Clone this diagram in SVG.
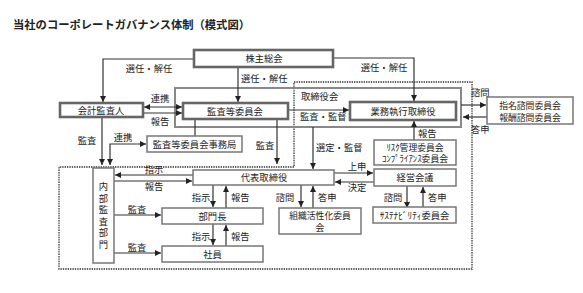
<svg xmlns="http://www.w3.org/2000/svg" width="583" height="293" viewBox="0 0 583 293">
<defs>
<marker id="ah" viewBox="0 0 10 10" refX="10" refY="5" markerWidth="6" markerHeight="6" markerUnits="userSpaceOnUse" orient="auto-start-reverse">
<path d="M0,0 L10,5 L0,10 Z" fill="#222"/>
</marker>
<style>
text{font-family:"Noto Sans CJK JP","Noto Sans",sans-serif;fill:#222;font-size:9.3px}
.t{font-size:11.3px;font-weight:bold}
.c{text-anchor:middle}
.m{font-size:8.8px}
.v{writing-mode:vertical-rl;letter-spacing:2.2px}
.b1{fill:#fff;stroke:#777;stroke-width:1.5}
.b2{fill:#fff;stroke:#666;stroke-width:2.6}
.grp{fill:none;stroke:#888;stroke-width:2}
.dot{fill:none;stroke:#333;stroke-width:1.3;stroke-dasharray:1.4 1}
.ln{fill:none;stroke:#333;stroke-width:1.2}
.ar{fill:none;stroke:#333;stroke-width:1.2;marker-end:url(#ah)}
.ar2{fill:none;stroke:#333;stroke-width:1.2;marker-end:url(#ah);marker-start:url(#ah)}
</style>
</defs>
<rect width="583" height="293" fill="#fff"/>
<text class="t" x="13" y="29">当社のコーポレートガバナンス体制（模式図）</text>

<g id="region">
<path class="dot" d="M294,82 H472 V269 H59 V167 H294 Z"/>
</g>
<g id="torishimariyakukai">
<rect class="grp" x="175" y="88" width="286" height="39"/>
<text x="301" y="100">取締役会</text>
</g>

<g id="connectors">
<path class="ar" d="M194,59 H103 V102"/>
<path class="ar" d="M238,67 V102"/>
<path class="ar" d="M333,58 H414 V101"/>
<path class="ar2" d="M144,107 H182"/>
<path class="ar" d="M143,113 H182"/>
<path class="ln" d="M195,119 V136"/>
<path class="ar" d="M102,117 V165"/>
<path class="ar2" d="M146,144 H110 V165"/>
<path class="ar" d="M277,119 V164"/>
<path class="ar" d="M288,110 H349"/>
<path class="ar" d="M313,127 V169"/>
<path class="ar" d="M414,140 V121"/>
<path class="ar" d="M461,105 H486"/>
<path class="ar" d="M487,117 H463"/>
<path class="ar" d="M193,175 H115"/>
<path class="ar" d="M114,181 H192"/>
<path class="ar" d="M213,185 V207"/>
<path class="ar" d="M226,208 V186"/>
<path class="ar" d="M213,224 V245"/>
<path class="ar" d="M226,246 V225"/>
<path class="ar" d="M114,215 H161"/>
<path class="ar" d="M114,253 H161"/>
<path class="ar" d="M301,185 V207"/>
<path class="ar" d="M313,208 V186"/>
<path class="ar" d="M334,173 H373"/>
<path class="ar" d="M374,182 H335"/>
<path class="ar" d="M407,186 V208"/>
<path class="ar" d="M423,207 V187"/>
</g>

<g id="labels">
<text class="c" x="149" y="72">選任・解任</text>
<text x="241" y="82">選任・解任</text>
<text class="c" x="384" y="71">選任・解任</text>
<text class="c" x="160" y="102">連携</text>
<text class="c" x="160" y="125">報告</text>
<text class="c" x="87" y="144">監査</text>
<text class="c" x="123" y="141">連携</text>
<text class="c" x="265" y="149">監査</text>
<text x="300" y="120">監査・監督</text>
<text x="316" y="151">選定・監督</text>
<text x="418" y="137">報告</text>
<text x="471" y="96">諮問</text>
<text x="471" y="133">答申</text>
<text class="c" x="154" y="173">指示</text>
<text class="c" x="154" y="190">報告</text>
<text class="c" x="201" y="201">指示</text>
<text x="231" y="201">報告</text>
<text class="c" x="201" y="240">指示</text>
<text x="231" y="240">報告</text>
<text class="c" x="137" y="213">監査</text>
<text class="c" x="137" y="251">監査</text>
<text class="c" x="285" y="201">諮問</text>
<text x="318" y="201">答申</text>
<text class="c" x="357" y="170">上申</text>
<text class="c" x="357" y="191">決定</text>
<text class="c" x="393" y="201">諮問</text>
<text x="428" y="201">答申</text>
</g>

<g id="kabunushi">
<rect class="b2" x="194" y="50" width="139" height="17"/>
<text class="c" x="264" y="62">株主総会</text>
</g>
<g id="kaikei">
<rect class="b2" x="60" y="103" width="83" height="14"/>
<text class="c" x="101" y="114">会計監査人</text>
</g>
<g id="kansatou">
<rect class="b2" x="183" y="103" width="105" height="16"/>
<text class="c" x="235" y="115">監査等委員会</text>
</g>
<g id="gyoumu">
<rect class="b2" x="350" y="102" width="106" height="18"/>
<text class="c" x="403" y="115">業務執行取締役</text>
</g>
<g id="jimukyoku">
<rect class="b1" x="147" y="136" width="95" height="16"/>
<text class="c" x="194.5" y="148">監査等委員会事務局</text>
</g>
<g id="daihyou">
<rect class="b1" x="193" y="170" width="141" height="15"/>
<text class="c" x="264" y="181">代表取締役</text>
</g>
<g id="bumoncho">
<rect class="b1" x="162" y="208" width="101" height="16"/>
<text class="c" x="212.5" y="220">部門長</text>
</g>
<g id="shain">
<rect class="b1" x="162" y="246" width="101" height="16"/>
<text class="c" x="212.5" y="258">社員</text>
</g>
<g id="naibu">
<rect class="b1" x="93" y="168" width="21" height="95"/>
<text class="v" x="103.5" y="182">内部監査部門</text>
</g>
<g id="soshiki">
<rect class="b1" x="279" y="208" width="82" height="26"/>
<text class="c m" x="320" y="219">組織活性化委員</text>
<text class="c m" x="320" y="231">会</text>
</g>
<g id="keiei">
<rect class="b1" x="374" y="169" width="82" height="17"/>
<text class="c" x="415" y="181">経営会議</text>
</g>
<g id="sustain">
<rect class="b1" x="373" y="207" width="83" height="16"/>
<text class="c" x="414.5" y="219">ｻｽﾃﾅﾋﾞﾘﾃｨ委員会</text>
</g>
<g id="risk">
<rect class="b1" x="374" y="140" width="82" height="25"/>
<text class="c m" x="415" y="150.5">ﾘｽｸ管理委員会</text>
<text class="c m" x="415" y="162">ｺﾝﾌﾟﾗｲｱﾝｽ委員会</text>
</g>
<g id="shimei">
<rect class="b1" x="487" y="97" width="86" height="27"/>
<text class="c m" x="530" y="108.5">指名諮問委員会</text>
<text class="c m" x="530" y="120.5">報酬諮問委員会</text>
</g>
</svg>
